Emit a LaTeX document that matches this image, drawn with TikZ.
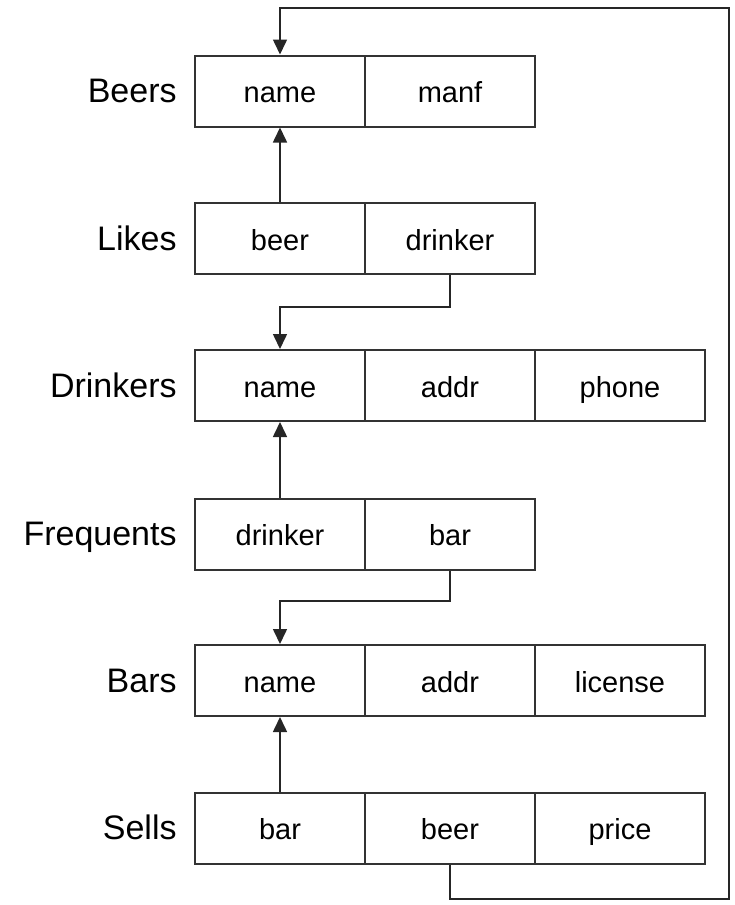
\documentclass[tikz,border=0pt]{standalone}
\usepackage{fontspec}
\setmainfont{Liberation Sans}
\usetikzlibrary{arrows.meta}
\begin{document}
\begin{tikzpicture}[x=0.5pt,y=-0.5pt,
  cell/.style={draw=black!80, line width=1pt, minimum width=85pt, minimum height=35.5pt, inner sep=0pt, text height=11.9pt, text depth=0pt, font=\fontsize{14.5}{17}\selectfont},
  rel/.style={anchor=east, inner sep=0pt, text height=11.7pt, text depth=0pt, font=\fontsize{17}{20}\selectfont},
  conn/.style={draw=black!85, line width=0.8pt, -{Triangle[length=7.5pt,width=7pt]}}]
\useasboundingbox (0,0) rectangle (734,905);
\node[cell] (beers1) at (280,91) {name};
\node[cell] (beers2) at (450,91) {manf};
\node[rel] (lbeers) at (177,91) {Beers};

\node[cell] (likes1) at (280,238.5) {beer};
\node[cell] (likes2) at (450,238.5) {drinker};
\node[rel] (llikes) at (177,238.5) {Likes};

\node[cell] (drinkers1) at (280,385.5) {name};
\node[cell] (drinkers2) at (450,385.5) {addr};
\node[cell] (drinkers3) at (620,385.5) {phone};
\node[rel] (ldrinkers) at (177,385.5) {Drinkers};

\node[cell] (frequents1) at (280,534) {drinker};
\node[cell] (frequents2) at (450,534) {bar};
\node[rel] (lfrequents) at (177,534) {Frequents};

\node[cell] (bars1) at (280,680.5) {name};
\node[cell] (bars2) at (450,680.5) {addr};
\node[cell] (bars3) at (620,680.5) {license};
\node[rel] (lbars) at (177,680.5) {Bars};

\node[cell] (sells1) at (280,828) {bar};
\node[cell] (sells2) at (450,828) {beer};
\node[cell] (sells3) at (620,828) {price};
\node[rel] (lsells) at (177,828) {Sells};

% vertical arrows
\draw[conn] (likes1.north) -- (beers1.south);
\draw[conn] (frequents1.north) -- (drinkers1.south);
\draw[conn] (sells1.north) -- (bars1.south);
% elbow arrows
\coordinate (e1) at (450,307);
\coordinate (e2) at (450,601);
\draw[conn] (likes2.south) -- (e1) -| (drinkers1.north);
\draw[conn] (frequents2.south) -- (e2) -| (bars1.north);
% long loop
\coordinate (c1) at (450,899);
\coordinate (c2) at (729,899);
\coordinate (c3) at (729,8);
\coordinate (c4) at (280,8);
\draw[conn] (sells2.south) -- (c1) -- (c2) -- (c3) -- (c4) -- (beers1.north);
\end{tikzpicture}
\end{document}
